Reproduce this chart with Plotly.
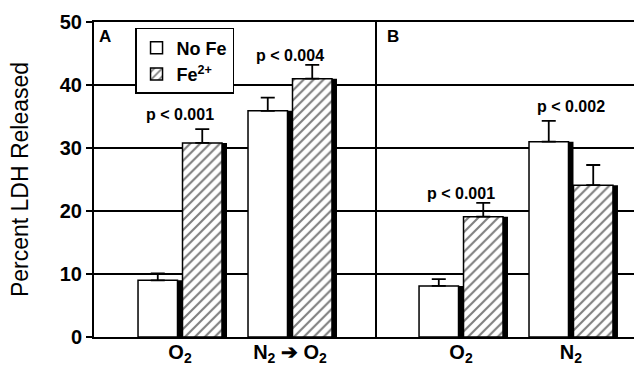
import plotly.graph_objects as go
from plotly.subplots import make_subplots

# ---------------- data ----------------
categories_a = ["O<sub>2</sub>", "N<sub>2</sub> ➔ O<sub>2</sub>"]
categories_b = ["O<sub>2</sub>", "N<sub>2</sub>"]

no_fe_a = [9.0, 35.9]
no_fe_a_err = [1.1, 2.1]
fe_a = [30.8, 41.0]
fe_a_err = [2.2, 2.2]

no_fe_b = [8.1, 31.0]
no_fe_b_err = [1.1, 3.3]
fe_b = [19.1, 24.1]
fe_b_err = [2.2, 3.2]

p_labels_a = ["p < 0.001", "p < 0.004"]
p_labels_b = ["p < 0.001", "p < 0.002"]

y_tick_values = [0, 10, 20, 30, 40, 50]
series_names = ["No Fe", "Fe<sup>2+</sup>"]
panel_labels = ["A", "B"]
y_title = "Percent LDH Released"

# ---------------- styling ----------------
FONT = "Liberation Sans, Arial, Helvetica, sans-serif"
BAR_W = 0.359
SLOT = 0.4045
SHADOW = 0.0455
OFF_NOFE = -SLOT / 2 - BAR_W / 2
OFF_FE = SLOT / 2 - BAR_W / 2

fig = make_subplots(rows=1, cols=2, shared_yaxes=True,
                    horizontal_spacing=0, column_widths=[283, 257])


def add_panel(col, cats, nofe, nofe_err, fe, fe_err, show_legend):
    # shadows (drawn first, behind)
    for vals, off in ((nofe, OFF_NOFE), (fe, OFF_FE)):
        fig.add_trace(go.Bar(x=cats, y=vals, width=BAR_W, offset=off + SHADOW,
                             marker=dict(color="black", line=dict(width=0)),
                             showlegend=False, hoverinfo="skip"), row=1, col=col)
    fig.add_trace(go.Bar(
        x=cats, y=nofe, width=BAR_W, offset=OFF_NOFE, name=series_names[0],
        legendgroup="nofe", showlegend=show_legend,
        marker=dict(color="white", line=dict(color="black", width=1.5)),
        error_y=dict(type="data", symmetric=False, array=nofe_err,
                     arrayminus=[0] * len(nofe_err), color="black",
                     thickness=1.8, width=7)), row=1, col=col)
    fig.add_trace(go.Bar(
        x=cats, y=fe, width=BAR_W, offset=OFF_FE, name=series_names[1],
        legendgroup="fe", showlegend=show_legend,
        marker=dict(color="white", line=dict(color="black", width=1.5),
                    pattern=dict(shape="/", fgcolor="black", bgcolor="white",
                                 size=7, solidity=0.3)),
        error_y=dict(type="data", symmetric=False, array=fe_err,
                     arrayminus=[0] * len(fe_err), color="black",
                     thickness=1.8, width=7)), row=1, col=col)


add_panel(1, categories_a, no_fe_a, no_fe_a_err, fe_a, fe_a_err, True)
add_panel(2, categories_b, no_fe_b, no_fe_b_err, fe_b, fe_b_err, False)

# p-value annotations
p_shift_a = [15, 9]
p_shift_b = [9.5, 14.5]
for xref, labels, n, ne, f, fe_e, shifts in (
        ("x", p_labels_a, no_fe_a, no_fe_a_err, fe_a, fe_a_err, p_shift_a),
        ("x2", p_labels_b, no_fe_b, no_fe_b_err, fe_b, fe_b_err, p_shift_b)):
    for i, lab in enumerate(labels):
        top = max(n[i] + ne[i], f[i] + fe_e[i])
        fig.add_annotation(x=i, y=top, xref=xref, yref="y", text=lab,
                           showarrow=False, yanchor="middle", yshift=shifts[i],
                           font=dict(family=FONT, size=16, color="black",
                                     weight="bold"))

# panel letters
for lab, xr, xpos in ((panel_labels[0], "x domain", 0.011),
                      (panel_labels[1], "x2 domain", 0.031)):
    fig.add_annotation(x=xpos, y=0.955, xref=xr, yref="y domain", text=lab,
                       showarrow=False, xanchor="left", yanchor="middle",
                       font=dict(family=FONT, size=17, color="black",
                                 weight="bold"))

axis_common = dict(showline=True, linecolor="black", linewidth=2,
                   mirror=True, ticks="", showgrid=False, zeroline=False,
                   automargin=False, ticklabelstandoff=-4,
                   tickfont=dict(family=FONT, size=20, color="black",
                                 weight="bold"))
fig.update_xaxes(**axis_common)
fig.update_xaxes(range=[-0.782, 1.791], row=1, col=1)
fig.update_xaxes(range=[-0.764, 1.573], row=1, col=2)

fig.update_yaxes(range=[0, 50], tickvals=y_tick_values, showgrid=True,
                 gridcolor="black", gridwidth=1.5, zeroline=False,
                 showline=True, linecolor="black", linewidth=2,
                 automargin=False,
                 ticks="outside", ticklen=6, tickwidth=2, tickcolor="black",
                 tickfont=dict(family=FONT, size=20, color="black",
                               weight="bold"))
fig.update_yaxes(title=dict(text=y_title, standoff=25,
                            font=dict(family=FONT, size=23, color="black")),
                 row=1, col=1)
fig.update_yaxes(ticks="", row=1, col=2)

fig.update_layout(
    width=634, height=365,
    margin=dict(l=94, r=0, t=22, b=28, autoexpand=False),
    barmode="overlay",
    plot_bgcolor="white", paper_bgcolor="white",
    font=dict(family=FONT, color="black"),
    legend=dict(x=0.076, y=0.981, xanchor="left", yanchor="top",
                bgcolor="white", bordercolor="black", borderwidth=1.5,
                font=dict(family=FONT, size=18, color="black", weight="bold"),
                itemwidth=30, tracegroupgap=0),
)

fig.write_html("out.html")
